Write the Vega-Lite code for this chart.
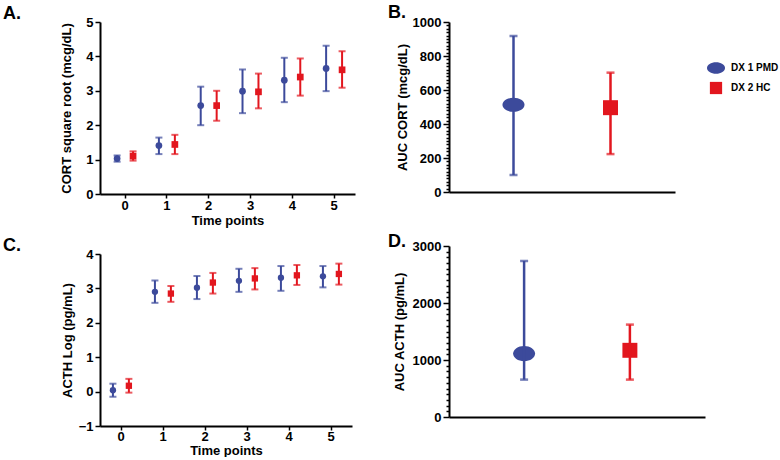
{
  "$schema": "https://vega.github.io/schema/vega-lite/v6.json",
  "background": "white",
  "padding": {"left": 3, "top": 4, "right": 0, "bottom": 0},
  "config": {
    "view": {"stroke": null},
    "font": "Liberation Sans",
    "axis": {
      "domainColor": "black", "domainWidth": 2, "tickColor": "black", "tickWidth": 1.5, "tickSize": 5,
      "labelFont": "Liberation Sans", "labelFontWeight": "bold", "labelFontSize": 13, "labelColor": "black", "labelPadding": 2,
      "titleFont": "Liberation Sans", "titleFontWeight": "bold", "titleFontSize": 13, "titleColor": "black", "grid": false
    },
    "axisX": {"tickSize": 4},
    "title": {"font": "Liberation Sans", "fontSize": 18, "fontWeight": "bold", "color": "black", "anchor": "start", "frame": "group"}
  },
  "resolve": {"scale": {"color": "independent", "shape": "independent", "stroke": "independent", "fill": "independent"}},
  "spacing": 33,
  "hconcat": [
    {
      "spacing": 10,
      "resolve": {"scale": {"color": "independent", "shape": "independent"}},
      "vconcat": [
        {
          "width": 255, "height": 172,
          "title": {"text": "A.", "dx": -97, "offset": -7},
          "data": {"values": [
            {"t": 0, "group": "DX 1 PMD", "mean": 1.03, "lo": 0.94, "hi": 1.12},
            {"t": 1, "group": "DX 1 PMD", "mean": 1.41, "lo": 1.16, "hi": 1.64},
            {"t": 2, "group": "DX 1 PMD", "mean": 2.57, "lo": 2.0, "hi": 3.12},
            {"t": 3, "group": "DX 1 PMD", "mean": 2.99, "lo": 2.35, "hi": 3.62},
            {"t": 4, "group": "DX 1 PMD", "mean": 3.31, "lo": 2.67, "hi": 3.96},
            {"t": 5, "group": "DX 1 PMD", "mean": 3.65, "lo": 2.99, "hi": 4.31},
            {"t": 0, "group": "DX 2 HC", "mean": 1.1, "lo": 0.97, "hi": 1.24},
            {"t": 1, "group": "DX 2 HC", "mean": 1.44, "lo": 1.16, "hi": 1.72},
            {"t": 2, "group": "DX 2 HC", "mean": 2.57, "lo": 2.13, "hi": 3.0},
            {"t": 3, "group": "DX 2 HC", "mean": 2.97, "lo": 2.49, "hi": 3.5},
            {"t": 4, "group": "DX 2 HC", "mean": 3.4, "lo": 2.86, "hi": 3.94},
            {"t": 5, "group": "DX 2 HC", "mean": 3.61, "lo": 3.09, "hi": 4.15}
          ]},
          "encoding": {
            "x": {"field": "t", "type": "ordinal", "scale": {"paddingInner": 0, "paddingOuter": 0.05, "align": 1}, "axis": {"title": "Time points", "labelAngle": 0, "labelPadding": 1, "titlePadding": 2}},
            "xOffset": {"field": "group", "type": "nominal", "scale": {"paddingInner": 0, "paddingOuter": 0.31}},
            "color": {"field": "group", "type": "nominal", "scale": {"range": ["#3c4a9b", "#e2161e"]}, "legend": null}
          },
          "layer": [
            {"mark": {"type": "rule", "strokeWidth": 2},
             "encoding": {"y": {"field": "lo", "type": "quantitative", "scale": {"domain": [0, 5], "nice": false}, "axis": {"title": "CORT square root (mcg/dL)", "values": [0, 1, 2, 3, 4, 5], "titlePadding": 12}}, "y2": {"field": "hi"}}},
            {"mark": {"type": "tick", "orient": "horizontal", "size": 7, "thickness": 2},
             "encoding": {"y": {"field": "lo", "type": "quantitative", "axis": {"title": "CORT square root (mcg/dL)", "values": [0, 1, 2, 3, 4, 5], "titlePadding": 12}}}},
            {"mark": {"type": "tick", "orient": "horizontal", "size": 7, "thickness": 2},
             "encoding": {"y": {"field": "hi", "type": "quantitative", "axis": {"title": "CORT square root (mcg/dL)", "values": [0, 1, 2, 3, 4, 5], "titlePadding": 12}}}},
            {"mark": {"type": "point", "filled": true, "opacity": 1, "size": 45},
             "encoding": {"y": {"field": "mean", "type": "quantitative", "axis": {"title": "CORT square root (mcg/dL)", "values": [0, 1, 2, 3, 4, 5], "titlePadding": 12}},
               "shape": {"field": "group", "type": "nominal", "scale": {"range": ["circle", "square"]}, "legend": null}}}
          ]
        },
        {
          "width": 252, "height": 172,
          "title": {"text": "C.", "dx": -97, "offset": -7},
          "data": {"values": [
            {"t": 0, "group": "DX 1 PMD", "mean": 0.04, "lo": -0.15, "hi": 0.23},
            {"t": 1, "group": "DX 1 PMD", "mean": 2.9, "lo": 2.58, "hi": 3.23},
            {"t": 2, "group": "DX 1 PMD", "mean": 3.02, "lo": 2.69, "hi": 3.36},
            {"t": 3, "group": "DX 1 PMD", "mean": 3.22, "lo": 2.9, "hi": 3.57},
            {"t": 4, "group": "DX 1 PMD", "mean": 3.31, "lo": 2.93, "hi": 3.65},
            {"t": 5, "group": "DX 1 PMD", "mean": 3.35, "lo": 3.03, "hi": 3.65},
            {"t": 0, "group": "DX 2 HC", "mean": 0.17, "lo": -0.03, "hi": 0.37},
            {"t": 1, "group": "DX 2 HC", "mean": 2.85, "lo": 2.61, "hi": 3.07},
            {"t": 2, "group": "DX 2 HC", "mean": 3.17, "lo": 2.85, "hi": 3.45},
            {"t": 3, "group": "DX 2 HC", "mean": 3.29, "lo": 2.97, "hi": 3.59},
            {"t": 4, "group": "DX 2 HC", "mean": 3.38, "lo": 3.1, "hi": 3.68},
            {"t": 5, "group": "DX 2 HC", "mean": 3.42, "lo": 3.11, "hi": 3.72}
          ]},
          "encoding": {
            "x": {"field": "t", "type": "ordinal", "scale": {"paddingInner": 0, "paddingOuter": 0}, "axis": {"title": "Time points", "labelAngle": 0, "labelPadding": 0, "titlePadding": 1}},
            "xOffset": {"field": "group", "type": "nominal", "scale": {"paddingInner": 0, "paddingOuter": 0.34}},
            "color": {"field": "group", "type": "nominal", "scale": {"range": ["#3c4a9b", "#e2161e"]}, "legend": null}
          },
          "layer": [
            {"mark": {"type": "rule", "strokeWidth": 2},
             "encoding": {"y": {"field": "lo", "type": "quantitative", "scale": {"domain": [-1, 4], "nice": false}, "axis": {"title": "ACTH Log (pg/mL)", "values": [-1, 0, 1, 2, 3, 4], "titlePadding": 4}}, "y2": {"field": "hi"}}},
            {"mark": {"type": "tick", "orient": "horizontal", "size": 7, "thickness": 2},
             "encoding": {"y": {"field": "lo", "type": "quantitative", "axis": {"title": "ACTH Log (pg/mL)", "values": [-1, 0, 1, 2, 3, 4], "titlePadding": 4}}}},
            {"mark": {"type": "tick", "orient": "horizontal", "size": 7, "thickness": 2},
             "encoding": {"y": {"field": "hi", "type": "quantitative", "axis": {"title": "ACTH Log (pg/mL)", "values": [-1, 0, 1, 2, 3, 4], "titlePadding": 4}}}},
            {"mark": {"type": "point", "filled": true, "opacity": 1, "size": 40},
             "encoding": {"y": {"field": "mean", "type": "quantitative", "axis": {"title": "ACTH Log (pg/mL)", "values": [-1, 0, 1, 2, 3, 4], "titlePadding": 4}},
               "shape": {"field": "group", "type": "nominal", "scale": {"range": ["circle", "square"]}, "legend": null}}}
          ]
        }
      ]
    },
    {
      "spacing": 34,
      "resolve": {"scale": {"color": "independent", "shape": "independent", "stroke": "independent", "fill": "independent"}},
      "vconcat": [
        {
          "width": 226, "height": 170,
          "title": {"text": "B.", "dx": -61, "offset": -6},
          "data": {"values": [
            {"group": "DX 1 PMD", "mean": 513, "lo": 100, "hi": 918},
            {"group": "DX 2 HC", "mean": 496, "lo": 223, "hi": 702}
          ]},
          "encoding": {
            "x": {"field": "group", "type": "nominal", "scale": {"paddingInner": 0, "paddingOuter": 0.165}, "axis": {"labels": false, "ticks": false, "title": null}},
            "y": {"field": "mean", "type": "quantitative", "scale": {"domain": [0, 1000], "nice": false},
               "axis": {"title": "AUC CORT (mcg/dL)", "tickCount": 50, "format": "d", "labelOverlap": false, "titlePadding": 3,
                 "labelExpr": "datum.value % 200 === 0 ? datum.label : ''",
                 "tickSize": {"condition": {"test": "datum.value % 200 === 0", "value": 6}, "value": 3}}}
          },
          "layer": [
            {"mark": {"type": "rule", "strokeWidth": 2.5},
             "encoding": {"y": {"field": "lo", "type": "quantitative"}, "y2": {"field": "hi"},
               "stroke": {"field": "group", "type": "nominal", "scale": {"range": ["#3c4a9b", "#e2161e"]}, "legend": null}}},
            {"mark": {"type": "tick", "orient": "horizontal", "size": 8, "thickness": 2.5},
             "encoding": {"y": {"field": "lo", "type": "quantitative"}, "fill": {"field": "group", "type": "nominal", "scale": {"range": ["#3c4a9b", "#e2161e"]}, "legend": null}}},
            {"mark": {"type": "tick", "orient": "horizontal", "size": 8, "thickness": 2.5},
             "encoding": {"y": {"field": "hi", "type": "quantitative"}, "fill": {"field": "group", "type": "nominal", "scale": {"range": ["#3c4a9b", "#e2161e"]}, "legend": null}}},
            {"mark": {"type": "point", "filled": true, "opacity": 1, "size": 484},
             "encoding": {
               "color": {"field": "group", "type": "nominal", "scale": {"range": ["#3c4a9b", "#e2161e"]},
                 "legend": {"orient": "none", "legendX": 257, "legendY": 36, "title": null, "padding": 0, "labelFont": "Liberation Sans", "labelFontWeight": "bold", "labelFontSize": 10, "labelColor": "black", "symbolSize": 324, "labelOffset": 5, "rowPadding": 1, "symbolOpacity": 1}},
               "shape": {"field": "group", "type": "nominal", "scale": {"range": ["M-1,0A1,0.64 0 1,1 1,0A1,0.64 0 1,1 -1,0Z", "M-0.68,-0.68H0.68V0.68H-0.68Z"]},
                 "legend": {"orient": "none", "legendX": 257, "legendY": 36, "title": null, "padding": 0, "labelFont": "Liberation Sans", "labelFontWeight": "bold", "labelFontSize": 10, "labelColor": "black", "symbolSize": 324, "labelOffset": 5, "rowPadding": 1, "symbolOpacity": 1}}}}
          ]
        },
        {
          "width": 256, "height": 171,
          "title": {"text": "D.", "dx": -61, "offset": -11},
          "data": {"values": [
            {"group": "DX 1 PMD", "mean": 1112, "lo": 656, "hi": 2737},
            {"group": "DX 2 HC", "mean": 1170, "lo": 656, "hi": 1621}
          ]},
          "encoding": {
            "x": {"field": "group", "type": "nominal", "scale": {"paddingInner": 0, "paddingOuter": 0.21}, "axis": {"labels": false, "ticks": false, "title": null}},
            "color": {"field": "group", "type": "nominal", "scale": {"range": ["#3c4a9b", "#e2161e"]}, "legend": null},
            "y": {"field": "mean", "type": "quantitative", "scale": {"domain": [0, 3000], "nice": false},
               "axis": {"title": "AUC ACTH (pg/mL)", "tickCount": 30, "format": "d", "labelOverlap": false, "titlePadding": 6,
                 "labelExpr": "datum.value % 1000 === 0 ? datum.label : ''",
                 "tickSize": {"condition": {"test": "datum.value % 1000 === 0", "value": 6}, "value": 3}}}
          },
          "layer": [
            {"mark": {"type": "point", "filled": true, "opacity": 1, "size": 484},
             "encoding": {
               "shape": {"field": "group", "type": "nominal", "scale": {"range": ["M-1,0A1,0.7 0 1,1 1,0A1,0.7 0 1,1 -1,0Z", "M-0.68,-0.68H0.68V0.68H-0.68Z"]}, "legend": null}}},
            {"mark": {"type": "rule", "strokeWidth": 2.5},
             "encoding": {"y": {"field": "lo", "type": "quantitative"}, "y2": {"field": "hi"}}},
            {"mark": {"type": "tick", "orient": "horizontal", "size": 8, "thickness": 2.5}, "encoding": {"y": {"field": "lo", "type": "quantitative"}}},
            {"mark": {"type": "tick", "orient": "horizontal", "size": 8, "thickness": 2.5}, "encoding": {"y": {"field": "hi", "type": "quantitative"}}}
          ]
        }
      ]
    }
  ]
}
